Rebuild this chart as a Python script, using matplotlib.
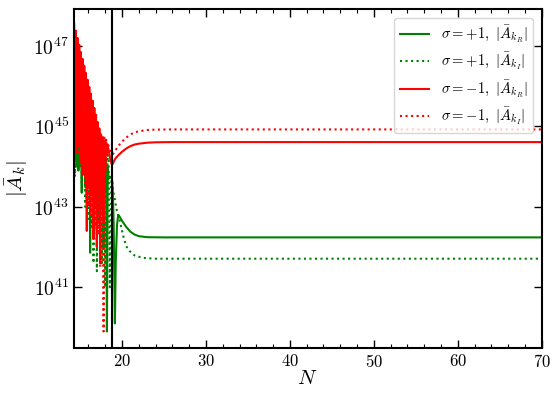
import numpy as np
import matplotlib
matplotlib.use("Agg")
import matplotlib.pyplot as plt
from matplotlib.ticker import FixedLocator, MultipleLocator, NullLocator, LogFormatterMathtext

plt.rcParams["font.family"] = "serif"
plt.rcParams["font.serif"] = ["cmr10", "DejaVu Serif"]
plt.rcParams["mathtext.fontset"] = "cm"
plt.rcParams["axes.formatter.use_mathtext"] = True

# --- data: N values and log10|A| ---
# oscillating region (shared grid, 14.3 .. 18.3 step 0.1)
N_osc = [14.3, 14.4, 14.5, 14.6, 14.7, 14.8, 14.9, 15.0, 15.1, 15.2,
         15.3, 15.4, 15.5, 15.6, 15.7, 15.8, 15.9, 16.0, 16.1, 16.2,
         16.3, 16.4, 16.5, 16.6, 16.7, 16.8, 16.9, 17.0, 17.1, 17.2,
         17.3, 17.4, 17.5, 17.6, 17.7, 17.8, 17.9, 18.0, 18.1, 18.2, 18.3]

red_R_osc = [47.55, 44.5, 47.38, 44.35, 47.2, 44.55, 47.03, 44.1, 46.85, 44.3,
             46.68, 43.8, 46.51, 44.0, 46.33, 42.4, 46.16, 43.5, 45.98, 42.8,
             45.81, 43.7, 45.64, 42.2, 45.46, 43.2, 45.29, 42.0, 45.11, 43.6,
             44.95, 41.6, 44.8, 43.3, 44.7, 42.6, 44.65, 43.9, 44.6, 44.3, 44.5]
red_I_osc = [47.35, 44.4, 47.18, 44.6, 47.0, 44.3, 46.83, 44.5, 46.65, 44.0,
             46.48, 44.3, 46.3, 43.6, 46.13, 44.0, 45.95, 43.0, 45.78, 43.8,
             45.6, 42.9, 45.43, 43.5, 45.25, 42.5, 45.08, 43.4, 44.9, 42.3,
             44.85, 41.5, 44.8, 43.0, 44.78, 39.9, 44.75, 43.8, 44.7, 44.4, 44.6]
green_R_osc = [47.0, 44.2, 46.85, 44.0, 46.7, 43.9, 46.5, 44.1, 46.35, 43.35,
               46.15, 43.9, 46.0, 43.5, 45.8, 43.2, 45.65, 43.6, 45.45, 41.86,
               45.3, 43.3, 45.1, 42.9, 44.95, 43.4, 44.8, 42.4, 44.6, 43.2,
               44.45, 42.8, 44.35, 43.5, 44.3, 42.0, 44.25, 43.4, 44.2, 39.9, 44.0]
green_I_osc = [47.1, 43.75, 46.95, 44.2, 46.8, 43.9, 46.6, 44.0, 46.45, 43.6,
               46.3, 43.8, 46.1, 43.0, 45.95, 43.5, 45.75, 42.7, 45.6, 43.4,
               45.4, 42.5, 45.25, 41.6, 45.05, 43.0, 44.9, 41.4, 44.7, 42.6,
               44.6, 42.2, 44.55, 41.6, 44.5, 43.2, 44.45, 41.0, 44.4, 43.5, 44.3]

# smooth region of each curve
N_red_R = [18.4, 18.5, 18.6, 18.7, 18.8, 18.9, 19.0, 19.2, 19.5, 19.8,
           20.0, 20.5, 21.0, 21.5, 22.0, 23.0, 24.0, 26.0, 70.0]
red_R_s = [44.42, 44.3, 44.18, 44.1, 44.05, 44.07, 44.12, 44.2, 44.27, 44.33,
           44.37, 44.45, 44.51, 44.55, 44.57, 44.595, 44.605, 44.61, 44.61]

N_red_I = [18.4, 18.6, 18.8, 19.0, 19.5, 20.0, 20.5, 21.0, 21.5, 22.0,
           23.0, 24.0, 26.0, 70.0]
red_I_s = [44.5, 44.38, 44.3, 44.33, 44.5, 44.62, 44.72, 44.8, 44.85, 44.88,
           44.91, 44.92, 44.925, 44.925]

N_green_R = [18.4, 18.6, 18.8, 18.9, 19.0, 19.08, 19.15, 19.25, 19.4, 19.55,
             19.7, 20.0, 20.5, 21.0, 21.5, 22.0, 23.0, 25.0, 70.0]
green_R_s = [43.7, 43.75, 43.7, 43.4, 42.6, 41.2, 40.1, 41.6, 42.55, 42.8,
             42.76, 42.65, 42.5, 42.38, 42.31, 42.27, 42.245, 42.24, 42.24]

N_green_I = [18.4, 18.55, 18.7, 18.8, 18.95, 19.15, 19.35, 19.75, 20.1, 20.5,
             20.9, 21.5, 22.5, 24.0, 70.0]
green_I_s = [44.2, 41.0, 43.6, 43.75, 43.38, 43.18, 42.93, 42.64, 42.31, 42.02,
             41.9, 41.79, 41.73, 41.71, 41.71]

N_mark = 18.8

series = [
    ("green", "-",  green_R_osc, N_green_R, green_R_s, r"$\sigma = +1,\ |\bar{A}_{k_R}|$"),
    ("green", ":",  green_I_osc, N_green_I, green_I_s, r"$\sigma = +1,\ |\bar{A}_{k_I}|$"),
    ("red",   "-",  red_R_osc,   N_red_R,   red_R_s,   r"$\sigma = -1,\ |\bar{A}_{k_R}|$"),
    ("red",   ":",  red_I_osc,   N_red_I,   red_I_s,   r"$\sigma = -1,\ |\bar{A}_{k_I}|$"),
]

fig = plt.figure(figsize=(5.52, 3.94), dpi=100)
ax = fig.add_axes([0.1335, 0.1168, 0.8478, 0.8604])

for color, ls, osc, n_s, v_s, label in series:
    n = np.array(N_osc + n_s)
    v = 10.0 ** np.array(osc + v_s)
    ax.plot(n, v, color=color, ls=ls, lw=1.5, label=label)

ax.axvline(N_mark, color="black", lw=1.5)

ax.set_yscale("log")
ax.set_xlim(14.24, 70)
ax.set_ylim(10 ** 39.49, 10 ** 47.92)

ax.xaxis.set_major_locator(MultipleLocator(10))
ax.xaxis.set_minor_locator(MultipleLocator(2))
ax.yaxis.set_major_locator(FixedLocator([1e41, 1e43, 1e45, 1e47]))
ax.yaxis.set_major_formatter(LogFormatterMathtext())
ax.yaxis.set_minor_locator(NullLocator())

ax.tick_params(which="both", direction="in", top=True, right=True)
ax.tick_params(axis="x", labelsize=12)
ax.tick_params(axis="y", labelsize=14)
ax.tick_params(which="major", length=6, width=1.0)
ax.tick_params(which="minor", length=3, width=0.8)
for sp in ax.spines.values():
    sp.set_linewidth(1.5)

ax.set_xlabel(r"$N$", fontsize=15, labelpad=0)
ax.set_ylabel(r"$|\bar{A}_k|$", fontsize=15, labelpad=2)

ax.legend(loc="upper right", fontsize=10.5, handlelength=2.0, labelspacing=0.4,
          borderaxespad=0.6)

fig.savefig("out.png", dpi=100)
